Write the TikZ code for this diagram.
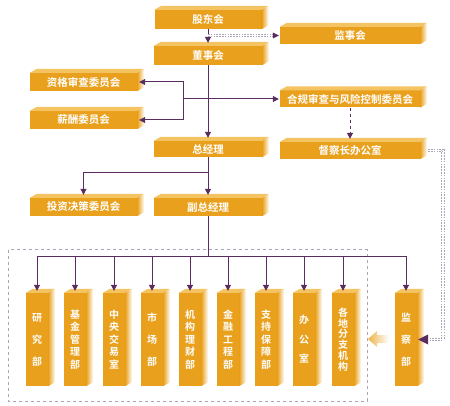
\documentclass[tikz,border=0pt]{standalone}
\usepackage{fontspec}
\setmainfont{Noto Sans CJK SC}[BoldFont={Noto Sans CJK SC Bold}]
\usetikzlibrary{calc,arrows.meta}
\definecolor{gold}{HTML}{E9A01C}
\definecolor{goldtop}{HTML}{F5C462}
\definecolor{pur}{HTML}{5B2C5F}
\definecolor{dashg}{HTML}{A9A6B8}
\tikzset{
 front/.style={fill=gold, inner sep=0pt, text=white, font=\bfseries\fontsize{10.5}{12}\selectfont},
 arr/.style={draw=pur, line width=1pt, -{Triangle[length=6pt,width=6pt]}, shorten >=1pt},
 ln/.style={draw=pur, line width=1pt},
 dbl/.style={draw=dashg, dash pattern=on 1.6pt off 1.2pt, double=white, double distance=1.3pt, line width=0.9pt},
 vtxt/.style={align=center, font=\bfseries\fontsize{10}{#1}\selectfont},
}
\newcommand\bx[7]{%
 \node[front, minimum width=#4pt, minimum height=#5pt, #6] (#1) at (#2,#3) {#7};
 \fill[goldtop] (#1.north west) -- ++(7pt,4pt) -- ($(#1.north east)+(7pt,4pt)$) -- (#1.north east) -- cycle;
 \shade[left color=gold, right color=white] (#1.north east) -- ++(7pt,4pt) -- ($(#1.south east)+(7pt,4pt)$) -- (#1.south east) -- cycle;
}
\begin{document}
\begin{tikzpicture}[x=1pt,y=-1pt]
\useasboundingbox (0,0) rectangle (450,406);
% dashed frame
\draw[dashg, dashed, line width=1pt] (8,250) rectangle (367,401);
% horizontal boxes
\bx{gd}{208}{19.5}{107}{19}{}{股东会}
\bx{jsh}{350}{35.5}{140}{17}{}{监事会}
\bx{dsh}{208}{55.5}{108}{19}{}{董事会}
\bx{zg}{83.5}{82}{107}{18}{}{资格审查委员会}
\bx{xc}{83.5}{120}{107}{18}{}{薪酬委员会}
\bx{hg}{350}{99}{140}{17}{}{合规审查与风险控制委员会}
\bx{zjl}{208}{149}{108}{16}{}{总经理}
\bx{dcz}{350}{150.5}{140}{17}{}{督察长办公室}
\bx{tz}{83.5}{207}{107}{18}{}{投资决策委员会}
\bx{fzjl}{208}{207}{108}{18}{}{副总经理}
% vertical boxes
\bx{v1}{37}{339.5}{22}{93}{vtxt=22}{研\\究\\部}
\bx{v2}{75}{339.5}{22}{93}{vtxt=12.5}{基\\金\\管\\理\\部}
\bx{v3}{114}{339.5}{22}{93}{vtxt=12.5}{中\\央\\交\\易\\室}
\bx{v4}{152}{339.5}{22}{93}{vtxt=22}{市\\场\\部}
\bx{v5}{190}{339.5}{22}{93}{vtxt=12.5}{机\\构\\理\\财\\部}
\bx{v6}{228}{339.5}{22}{93}{vtxt=12.5}{金\\融\\工\\程\\部}
\bx{v7}{266}{339.5}{22}{93}{vtxt=12.5}{支\\持\\保\\障\\部}
\bx{v8}{304}{339.5}{22}{93}{vtxt=19.5}{办\\公\\室}
\bx{v9}{343}{339.5}{22}{93}{vtxt=10.8}{各\\地\\分\\支\\机\\构}
\bx{jc}{406}{339.5}{22}{93}{vtxt=22}{监\\察\\部}
% connectors
\draw[arr, shorten >=3pt] (gd.south) -- (dsh.north);
\coordinate (b1) at (208,35.5);
\draw[dbl] (b1) -- ($(jsh.west)+(-6pt,0)$);
\fill[pur] ($(jsh.west)+(-1pt,0)$) -- ++(-6pt,3pt) -- ++(0,-6pt) -- cycle;
\draw[arr, shorten >=3pt] (dsh.south) -- (zjl.north);
\coordinate (c1) at (183,99);
\draw[arr] (c1) -- (hg.west);
\draw[arr, shorten >=2pt] (c1) |- (zg.east);
\draw[arr, shorten >=2pt] (c1) |- (xc.east);
\draw[arr, dashed, shorten >=3pt] (hg.south) -- (dcz.north);
\coordinate (c2) at (208,173);
\draw[ln] (zjl.south) -- (c2);
\draw[arr, shorten >=3pt] (c2) -| (tz.north);
\draw[arr, shorten >=3pt] (c2) -- (fzjl.north);
\coordinate (c3) at (208,257);
\draw[ln] (fzjl.south) -- (c3);
\foreach \v in {v1,v2,v3,v4,v5,v6,v7,v8,v9,jc}{
  \draw[arr, shorten >=2pt] (c3) -| (\v.north);
}
% dotted return line
\coordinate (k1) at (443,150.5);
\coordinate (k2) at (443,339.5);
\draw[dbl] ($(dcz.east)+(8pt,0)$) -- (k1) -- (k2) -- ($(jc.east)+(10pt,0)$);
\fill[pur] ($(jc.east)+(1pt,0)$) -- ++(10pt,5pt) -- ++(0,-10pt) -- cycle;
% faded arrow toward branches
\shade[left color=gold!80, right color=white] (368,339) -- (377,331) -- (377,335) -- (389,335) -- (389,343) -- (377,343) -- (377,347) -- cycle;
\end{tikzpicture}
\end{document}
